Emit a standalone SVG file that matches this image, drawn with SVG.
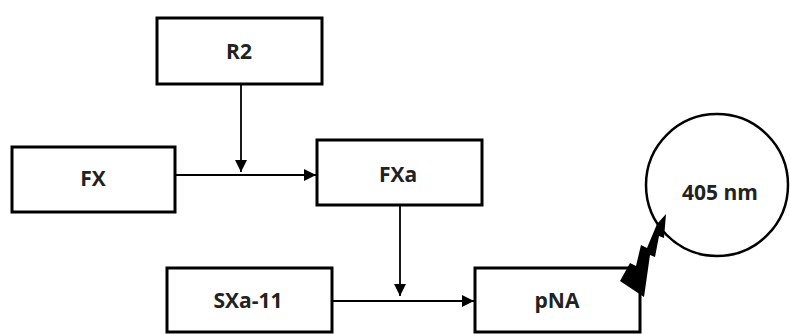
<svg xmlns="http://www.w3.org/2000/svg" width="790" height="334" viewBox="0 0 790 334">
<style>
.box{fill:#fff;stroke:#000;stroke-width:3}
.lbl{font-family:"Open Sans","Liberation Sans",sans-serif;font-weight:bold;font-size:21px;fill:#222;text-anchor:middle}
.conn{stroke:#000;stroke-width:1.8;fill:none;marker-end:url(#ah)}
</style>
<defs>
<marker id="ah" viewBox="0 0 10 10" refX="10" refY="5" markerWidth="12" markerHeight="12" markerUnits="userSpaceOnUse" orient="auto">
<path d="M0,0 L10,5 L0,10 Z" fill="#000"/>
</marker>
</defs>
<rect width="790" height="334" fill="#fff"/>
<g id="connectors">
<line class="conn" x1="241" y1="84" x2="241" y2="172"/>
<line class="conn" x1="175" y1="175" x2="316" y2="175"/>
<line class="conn" x1="400" y1="205" x2="400" y2="296"/>
<line class="conn" x1="332" y1="301" x2="474" y2="301"/>
</g>
<g id="R2"><rect class="box" x="157" y="18" width="165" height="66"/><text class="lbl" x="239" y="59">R2</text></g>
<g id="FX"><rect class="box" x="12" y="147" width="163" height="65"/><text class="lbl" x="93" y="186">FX</text></g>
<g id="FXa"><rect class="box" x="317" y="140" width="165" height="65"/><text class="lbl" x="398" y="182">FXa</text></g>
<g id="SXa-11"><rect class="box" x="167" y="268" width="165" height="64"/><text class="lbl" x="248" y="308">SXa-11</text></g>
<g id="pNA"><rect class="box" x="475" y="268" width="165" height="64"/><text class="lbl" x="557" y="308">pNA</text></g>
<g id="nm405"><circle cx="717" cy="185" r="71" fill="#fff" stroke="#000" stroke-width="2.5"/><text class="lbl" x="720" y="200">405 nm</text></g>
<g id="bolt"><polygon points="666,214 664,238 659,236 655,257 650,255 644,297 620,281 630,263 636,266 641,245 647,248 657,224" fill="#000"/></g>
</svg>
